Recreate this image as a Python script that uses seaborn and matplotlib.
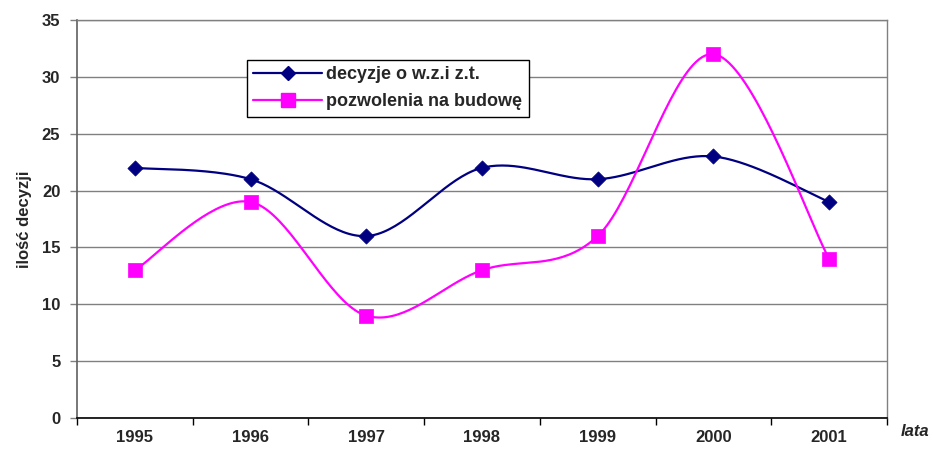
import numpy as np
import pandas as pd
import matplotlib
matplotlib.use("Agg")
import matplotlib.pyplot as plt
from matplotlib.lines import Line2D
import seaborn as sns

years = ["1995", "1996", "1997", "1998", "1999", "2000", "2001"]
decyzje = [22, 21, 16, 22, 21, 23, 19]
pozwolenia = [13, 19, 9, 13, 16, 32, 14]
yticks = [0, 5, 10, 15, 20, 25, 30, 35]

sns.set_theme(style="white")
plt.rcParams['font.family'] = ['Liberation Sans', 'DejaVu Sans']


def smooth(y, n=40):
    # Catmull-Rom style smoothing (Excel-like smoothed line)
    y = np.asarray(y, float)
    x = np.arange(len(y), dtype=float)
    P = np.column_stack([x, y])
    ext = np.vstack([P[0], P, P[-1]])
    out = []
    for i in range(len(P) - 1):
        p0, p1, p2, p3 = ext[i], ext[i + 1], ext[i + 2], ext[i + 3]
        c1 = p1 + (p2 - p0) / 6.0
        c2 = p2 - (p3 - p1) / 6.0
        t = np.linspace(0, 1, n, endpoint=(i == len(P) - 2))[:, None]
        b = ((1 - t) ** 3) * p1 + 3 * ((1 - t) ** 2) * t * c1 + 3 * (1 - t) * t ** 2 * c2 + t ** 3 * p2
        out.append(b)
    out = np.vstack(out)
    return out[:, 0], out[:, 1]


fig = plt.figure(figsize=(9.33, 4.5), dpi=100)
ax = fig.add_axes([77 / 933, 32 / 450, 810 / 933, 398 / 450])

navy = "#000080"
magenta = "#FF00FF"

for vals, col, mk, ms in [(decyzje, navy, "D", 60), (pozwolenia, magenta, "s", 95)]:
    sx, sy = smooth(vals)
    sns.lineplot(x=sx, y=sy, ax=ax, color=col, linewidth=1.6, sort=False, estimator=None, legend=False)
    sns.scatterplot(x=np.arange(len(vals)), y=vals, ax=ax, color=col, marker=mk, s=ms,
                    edgecolor=col, linewidth=0.5, legend=False, zorder=5)

FS = 12
ax.set_xlim(-0.5, 6.5)
ax.set_ylim(0, 35)
ax.set_yticks(yticks)
ax.set_yticklabels([str(v) for v in yticks], fontsize=FS, fontweight="bold")
ax.yaxis.grid(True, color="#808080", linewidth=1)
ax.set_axisbelow(True)

ax.set_xticks(np.arange(-0.5, 7, 1))
ax.set_xticklabels([])
ax.set_xticks(np.arange(7), minor=True)
ax.set_xticklabels(years, minor=True, fontsize=FS, fontweight="bold")
ax.tick_params(axis="x", which="minor", length=0, pad=9)
ax.tick_params(axis="x", which="major", length=5, width=1, color="black", direction="out", bottom=True)
ax.tick_params(axis="y", length=5, width=1, color="#808080", direction="out", left=True, pad=7)

for s in ["top", "right"]:
    ax.spines[s].set_color("#808080")
    ax.spines[s].set_linewidth(1)
ax.spines["left"].set_color("#606060")
ax.spines["left"].set_linewidth(1.2)
ax.spines["bottom"].set_color("black")
ax.spines["bottom"].set_linewidth(1.2)

ax.set_ylabel("ilość decyzji", fontsize=FS, fontweight="bold", labelpad=7)
fig.text(915 / 933, 1 - 432 / 450, "lata", fontsize=FS, fontweight="bold", style="italic",
         ha="center", va="center")

handles = [
    Line2D([0], [0], color=navy, marker="D", markersize=7.5, linewidth=1.6),
    Line2D([0], [0], color=magenta, marker="s", markersize=10, linewidth=1.6),
]
leg = ax.legend(handles, ["decyzje o w.z.i z.t.", "pozwolenia na budowę"],
                loc="upper left", bbox_to_anchor=((247 - 77) / 810, (418 - 60) / 398),
                borderaxespad=0, frameon=True, fancybox=False, handlelength=3.8,
                handletextpad=0.25, prop={"weight": "bold", "size": 13},
                borderpad=0.35, labelspacing=0.55)
leg.get_frame().set_edgecolor("black")
leg.get_frame().set_linewidth(1)
leg.get_frame().set_alpha(1)

fig.savefig("out.png", dpi=100, facecolor="white")
